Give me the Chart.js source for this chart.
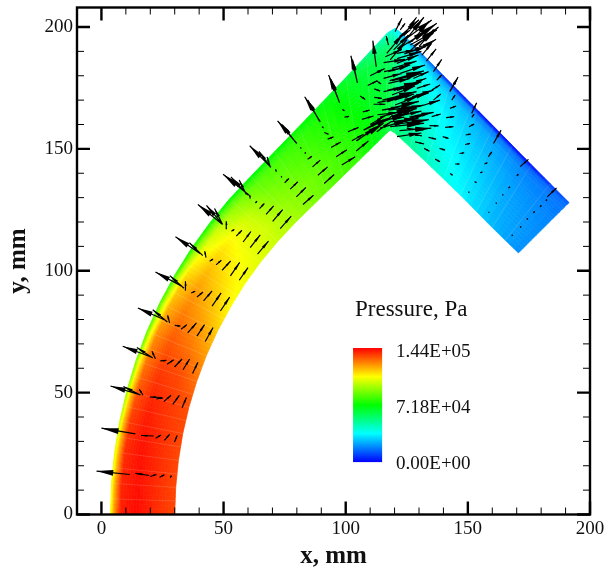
<!DOCTYPE html>
<html>
<head>
<meta charset="utf-8">
<script src="https://cdn.jsdelivr.net/npm/chart.js@4"></script>
<style>
  html, body { margin: 0; background: #fff; }
  #wrap { width: 613px; height: 570px; }
</style>
</head>
<body>
<div id="wrap"><canvas id="ductChart" width="613" height="570"></canvas></div>
<script>
// duct walls in mm (inner wall, then outer wall)
const innerWall = [[30,0],[30.4,11.1],[31.5,22.2],[33.3,33.2],[35.8,44],[39,54.6],[42.9,65.1],[47.5,75.2],[52.8,85],[58.6,94.5],[65.1,103.5],[72.2,112.1],[79.8,120.2],
  [92.6,132.7],[105.4,145.2],[116.5,156.2],[118.2,157.7],[120,156.6],[133,144.5],[147,131],[160,117.7],[170.7,107.3]];
const outerWall = [[3.7,0],[4.1,12.8],[5.4,25.6],[7.5,38.3],[10.4,50.8],[14.1,63.1],[18.6,75.1],[23.9,86.8],[30,98.2],[36.8,109.1],[44.3,119.5],[52.4,129.4],[61.2,138.8],
  [80.7,159],[100.1,179.3],[117,197.5],[120.2,199.5],[123.7,196.7],[143,177],[160.5,159.3],[176,143.5],[191.4,128]];
// where the pressure columns sit between the walls (0 inner, 1 outer)
const acrossWall = [0, 0.3, 0.6, 0.85, 0.95, 1];
// pressure in kPa, one row per wall station, one column per acrossWall
const pressure = [
  [134,138,143,140,122,108],
  [134,138,142,139,120,106],
  [134,138,142,138,118,104],
  [134,137,141,136,116,100],
  [133,136,139,132,112,94],
  [128,134,136,128,108,90],
  [122,128,132,124,104,86],
  [115,122,127,119,100,82],
  [108,116,122,114,96,79],
  [106,111,116,106,90,76],
  [104,106,109,100,86,74],
  [100,102,100,92,82,72],
  [96,94,90,85,78,71],
  [86,86,82,79,75,72],
  [79,76,72,69,68,63],
  [66,64,62,58,50,44],
  [60,60,58,52,43,36],
  [56,54,50,44,34,28],
  [45,40,36,30,22,4],
  [35,32,28,24,17,0],
  [26,24,22,19,14,1],
  [20,20,19,17,16,13]
];
const pressureMax = 144;
const legendTicks = ["1.44E+05", "7.18E+04", "0.00E+00"];
const legendTickY = [66.6, 43.7, 20.7];

// velocity arrows in mm: tail x, tail y, head x, head y
const arcArrows = [
  [11.6,16.4,-2,17.8],[19.6,16,13.9,16.9],[20,15.6,22.5,16.4],[23.8,15.3,25.8,16.3],[28.2,15.1,28.6,16],
  [13.9,33.1,0,35.4],[21.4,32.2,16.2,32.4],[22.2,31.3,24.4,32.6],[25.8,30.4,27.9,32.9],[29.9,29.7,31,32.4],
  [15.7,49.2,3.7,52.7],[16,49,9,52.5],[17,48.9,15.5,51.4],[24.8,48,19.8,48.2],[22.5,47.4,25.2,47.8],[25.5,46.3,28.5,48.9],[29.2,45.2,31.9,48.9],[33,43.8,34.8,48],
  [20.3,64.6,8.7,69],[21,64.2,14.5,68.5],[22.1,63.9,20.7,67],[24.1,63,26.6,63.2],[26.9,61.6,29.6,63.5],[29.9,60.5,33,63.8],[33.4,59.4,36.1,63.8],[37.3,57.8,39.5,62.5],
  [26.2,79.7,14.9,84.7],[27,79,21,84],[27.9,78.6,27.1,81.7],[30,77.6,32.3,77.3],[32.6,76,35,77.9],[35.3,74.5,38.9,78.6],[39.1,73.2,42.2,77.9],[42.5,71,45.7,76.7],
  [33,93.6,22.1,99.5],[33.8,92.8,28,98],[34.6,92,34.4,95.7],[36.7,90.9,38.4,91.6],[39.1,89.2,41.6,91.3],[41.8,87.6,45.3,91.7],[45.3,85.5,49,90.9],[48.7,83.5,52.5,89.2],
  [40.5,107,30.3,113.9],[41.5,106.2,36,111.5],[42.8,105.4,42.3,108],[44.3,103.9,45.7,104.8],[46.9,102.4,49.1,104.3],[49.4,100.2,52.9,104],[52.8,97.9,56.6,103.4],[56.4,96.1,60,101.3],
  [49.6,119,39.5,127.2],[49.6,119,43,126.8],[49.6,119,46.3,125.5],[51.4,117.3,51.1,120.3],[53.2,116.2,54.4,116.9],[55.2,114.2,57.5,116.6],[58,111.8,61.2,116.1],[60.9,109.5,65,114.7],[63.9,106.8,68.4,112.2],
  [60.5,131,49.8,139.6],[60,131,53,138.5],[59.3,131.3,56.4,137.2],[60.9,129.6,60.7,131],[63,127.8,63.7,128.5],[64.7,125.5,66.7,127.6],[67.4,123.1,70.5,126.6],[70.1,120.3,74.2,125.1],[73.2,117.3,77.7,122.4],
  [69.4,142.4,60.7,151.3],[69.2,142.5,64.5,149],[69.1,142.6,67.8,146.7],[71.6,140.6,71.3,141.6],[73.5,138.3,73.9,138.7],[75,136.1,76.8,137.9],[77.3,133.5,80.4,136.5],[79.8,130.3,83.7,134.2],[82.5,127.2,86.8,131],
  [80,152.2,72.1,161.5],[79.6,152.6,74,160],[81.4,150.6,81.6,150.4],[83.2,148.1,83.7,148.5],[84.4,145.7,86.2,147],[86.4,142.6,89.6,145.4],[88.6,139.2,92.6,142.6],[91.2,135.8,95.3,139.5],
  [89.6,161.1,83.2,171.4],[89.2,161.5,84.5,170],[90.3,159.1,90.7,158.8],[91.2,156.7,93,156],[92.6,154,95,154.9],[94,150.6,98,152.8],[96.1,146.8,100.5,149.6],[98.4,143.4,103.9,146.8],
  [97.5,168.9,93,180.3],[97.3,169.5,94,178.5],[98.6,166.2,99.5,165.6],[99.5,163,101.4,163.3],[100.9,157,105.3,158.8],[102.5,153.3,107.3,156],
  [104.8,177.1,102.1,188.2],[104.6,178,102.8,186.5],[112.5,183.7,111.1,194.4]
];
const bendArrows = [
  [125.7,193.3,137.3,201.5],[125,195.4,135.2,202.9],[126.4,192.6,137.3,198.8],[127.7,192.2,135.9,197.4],[128.4,191.3,135.2,193.3],[127.1,194,133.9,202.2],
  [120.2,198.1,123,203.6],[122.3,198.8,124.3,201.5],[116.8,189.2,123.7,197.4],[118.2,186.5,125,194.7],[119.6,190.6,125.7,196.7],[120.9,194.7,126.4,198.8],
  [116.2,187.8,123,190.8],[115.5,185.4,124.3,186.7],[117.5,192.6,116.6,196.3],[131.2,188.5,135.2,193.3],[135.9,181.7,139.3,186.7],
  [112.5,181.4,114.5,181.8],[112.5,178,114.5,176.6],[111.7,174.6,114.1,173.7],[111.7,171.1,114.8,170.7],[111.4,168.3,116.2,168.3],
  [105.9,171.7,108,170.3],[107,165.2,109.8,165.9],[106.6,162.1,111.4,163.5],[107.3,157.7,114.1,161.5],[104.6,153.3,112,158.8],[104.3,149.1,109.3,153.2],
  [112.7,157,118.5,161.1],[114.8,165.9,122.3,167.3],[115.5,173.5,123.7,175.2],[115.5,178.9,123,181],[115.7,181.7,122.3,183],[116.8,170,125,172.1],
  [117.5,165.9,127.7,167.3],[118.2,163.2,129.1,166.6],[118.2,161.1,129.8,162.5],[118.2,159.1,131.8,160.5],[117.5,181.7,126.4,184.4],[117.5,176.9,126.4,178.9],
  [118.9,172.1,128.4,175.8],[120.2,168,129.8,171.7],[122.3,165.9,131.8,168],[123.7,161.8,133.2,164.3],[126.4,160.5,132.1,160.5],[125,158.4,131.8,157.7],
  [125.7,156.3,131.2,155.3],[128.4,152.9,132.1,152],[132.1,150.2,134.3,149],[136.6,145.8,138.6,144.7],[129.1,174.8,134.6,176.6],[122.3,181,132.5,184.4],
  [120.9,185.1,129.8,188.5],[120.9,189.2,128.4,190.6],[127.7,178.9,133.9,181.7],[127.1,171.4,135.9,174.1],[129.8,167.3,138.6,170],[133.9,154.7,137,154],
  [134.3,159.5,138,159.4],[135.2,163.2,138.9,164.3],[135.9,170,138.9,172.5],[135.2,174.1,138.6,176.2],[137.3,178.2,139.3,180.3],
  [109,176,113,178],[110,180,116,183],[121,174,130,177],[119,178,131,181],[124,170,134,173],[125,176,133,179],[126,163,136,165],[122,163.5,131,165.5],
  [120,170,128,172.5],[113,164,122,165],[113,169,121,170.5],[110,160,116,163.5],[116,162,124,163],[119,183,129,186],[121,187,131,190],[124,189,133,192],
  [123,192,134,199],[124,194,132,204],[122,196,130,203],[126,190,138,200],[129,190,137,195],[124,197,129,204],[130,192,136,199],[133,186,137,191],
  [112,160,126,165],[114,163,128,167],[116,166,130,169.5],[115,170,129,173.5],[117,174,131,177.5],[114,158.5,126,162],[118,178,132,182],[120,160,134,162],
  [122,157.5,135,158.5],[121,155,131,156.5],[107.3,157.7,118.5,163],[104.3,153.3,115.5,160.5]
];
const exitArrows = [
  [143,174.1,145.7,178.9],[142.6,173.5,146,179.5],[143.4,170,144.8,172.1],[142.7,166.6,145.2,167.6],[141.1,162.8,144.4,163.2],[140.7,158.8,144.1,159.1],[139.7,155,142.1,154.3],[138.4,150.2,140.7,149.5],
  [151.6,164.6,153.6,168.9],[151.6,162.9,152.6,164.3],[150.5,159.1,152.6,160.2],[149.1,155.7,151.2,156.1],[148.9,151.8,150.9,152.2],[146.6,148.1,148.5,148.4],[144.8,143.8,146.6,143.8],[142.7,139.9,143.8,139.2],
  [160.5,152.2,163.6,157.7],[158.4,146.8,159.8,148.8],[156.8,143.8,158,144.3],[155,140.2,156,140.5],[152.7,136.5,153.6,136.2],[150.2,132.4,150.6,132.1],
  [171.4,142.7,174.8,145.7],[170,139,170.7,139.6],[166.6,134,167.3,134.4],[164.1,131,164.5,131.3],[161.4,127.6,161.8,127.9],[158.4,123.9,158.8,124],
  [182.5,130.3,186.3,134],[181.9,128.7,182.4,129.2],[179.5,126.2,180.1,126.8],[176.8,123.8,177.4,124.3],[174.1,121,174.6,121.4],[171.4,117.7,171.8,118.2],[167.9,114.3,168.4,114.7]
];
const allArrows = arcArrows.concat(bendArrows, exitArrows);

const serif = '"Liberation Serif", "Times New Roman", serif';

// blue - cyan - green - yellow - red, f from 0 to 1
function rainbow(f) {
  const stops = [[0,0,255],[0,255,255],[0,255,0],[255,255,0],[255,0,0]];
  f = Math.min(1, Math.max(0, f));
  const i = Math.min(3, Math.floor(f * 4));
  const t = f * 4 - i;
  const c = stops[i].map((v, k) => Math.round(v + (stops[i + 1][k] - v) * t));
  return "rgb(" + c.join(",") + ")";
}

const fieldPlugin = {
  id: "field",
  beforeDatasetsDraw(chart) {
    const { ctx, scales: { x, y } } = chart;
    const px = p => [x.getPixelForValue(p[0]), y.getPixelForValue(p[1])];
    // corner of a sub cell: station position t, across position u
    const at = (i, j, t, u) => {
      const a = acrossWall[j] + (acrossWall[j + 1] - acrossWall[j]) * u;
      const ix = innerWall[i][0] + (innerWall[i + 1][0] - innerWall[i][0]) * t;
      const iy = innerWall[i][1] + (innerWall[i + 1][1] - innerWall[i][1]) * t;
      const ox = outerWall[i][0] + (outerWall[i + 1][0] - outerWall[i][0]) * t;
      const oy = outerWall[i][1] + (outerWall[i + 1][1] - outerWall[i][1]) * t;
      return px([ix + (ox - ix) * a, iy + (oy - iy) * a]);
    };
    const n = 6;
    ctx.save();
    ctx.lineWidth = 0.7;
    for (let i = 0; i < innerWall.length - 1; i++) {
      for (let j = 0; j < acrossWall.length - 1; j++) {
        for (let a = 0; a < n; a++) {
          for (let b = 0; b < n; b++) {
            const t = (a + 0.5) / n, u = (b + 0.5) / n;
            const low = pressure[i][j] + (pressure[i + 1][j] - pressure[i][j]) * t;
            const high = pressure[i][j + 1] + (pressure[i + 1][j + 1] - pressure[i][j + 1]) * t;
            const col = rainbow((low + (high - low) * u) / pressureMax);
            ctx.fillStyle = col;
            ctx.strokeStyle = col;
            const p = [at(i, j, a / n, b / n), at(i, j, (a + 1) / n, b / n), at(i, j, (a + 1) / n, (b + 1) / n), at(i, j, a / n, (b + 1) / n)];
            ctx.beginPath();
            ctx.moveTo(p[0][0], p[0][1]);
            ctx.lineTo(p[1][0], p[1][1]);
            ctx.lineTo(p[2][0], p[2][1]);
            ctx.lineTo(p[3][0], p[3][1]);
            ctx.closePath();
            ctx.fill();
            ctx.stroke();
          }
        }
      }
    }
    // faint pale mesh lines across the duct
    ctx.strokeStyle = "rgba(255,255,255,0.16)";
    ctx.lineWidth = 0.8;
    for (let i = 0; i < innerWall.length - 1; i++) {
      [0, 0.5].forEach(t => {
        const a = at(i, 0, t, 0), b = at(i, acrossWall.length - 2, t, 1);
        ctx.beginPath();
        ctx.moveTo(a[0], a[1]);
        ctx.lineTo(b[0], b[1]);
        ctx.stroke();
      });
    }
    ctx.restore();
  },
  afterDatasetsDraw(chart) {
    const { ctx, scales: { x, y } } = chart;
    ctx.save();
    ctx.fillStyle = "#000";
    // arrow heads, their size goes with the vector like in the original plot
    allArrows.forEach(a => {
      const x0 = x.getPixelForValue(a[0]), y0 = y.getPixelForValue(a[1]);
      const x1 = x.getPixelForValue(a[2]), y1 = y.getPixelForValue(a[3]);
      const dx = x1 - x0, dy = y1 - y0;
      const len = Math.hypot(dx, dy) || 1;
      const back = len * 0.5, half = Math.max(1, len * 0.085);
      const bx = x1 - dx / len * back, by = y1 - dy / len * back;
      ctx.beginPath();
      ctx.moveTo(x1, y1);
      ctx.lineTo(bx - dy / len * half, by + dx / len * half);
      ctx.lineTo(bx + dy / len * half, by - dx / len * half);
      ctx.closePath();
      ctx.fill();
    });

    // frame and inward ticks on all four sides
    const { left, right, top, bottom } = chart.chartArea;
    ctx.strokeStyle = "#000";
    x.ticks.forEach(t => {
      const major = t.value % 50 === 0;
      const p = x.getPixelForValue(t.value);
      ctx.lineWidth = major ? 2.4 : 1;
      const l = major ? 13 : 7;
      ctx.beginPath();
      ctx.moveTo(p, bottom); ctx.lineTo(p, bottom - l);
      ctx.moveTo(p, top); ctx.lineTo(p, top + l);
      ctx.stroke();
    });
    y.ticks.forEach(t => {
      const major = t.value % 50 === 0;
      const p = y.getPixelForValue(t.value);
      ctx.lineWidth = major ? 2.4 : 1;
      const l = major ? 13 : 7;
      ctx.beginPath();
      ctx.moveTo(left, p); ctx.lineTo(left + l, p);
      ctx.moveTo(right, p); ctx.lineTo(right - l, p);
      ctx.stroke();
    });
    ctx.lineWidth = 2.4;
    ctx.strokeRect(left, top, right - left, bottom - top);

    // colour bar
    const barL = x.getPixelForValue(103), barR = x.getPixelForValue(114.9);
    const barT = y.getPixelForValue(68.3), barB = y.getPixelForValue(21.5);
    const g = ctx.createLinearGradient(0, barB, 0, barT);
    [0, 0.25, 0.5, 0.75, 1].forEach(f => g.addColorStop(f, rainbow(f)));
    ctx.fillStyle = g;
    ctx.fillRect(barL, barT, barR - barL, barB - barT);

    ctx.fillStyle = "#111";
    ctx.textBaseline = "middle";
    ctx.textAlign = "left";
    ctx.font = "23px " + serif;
    ctx.fillText("Pressure, Pa", x.getPixelForValue(103.8), y.getPixelForValue(83.9));
    ctx.font = "19px " + serif;
    legendTicks.forEach((s, i) => ctx.fillText(s, x.getPixelForValue(120.6), y.getPixelForValue(legendTickY[i])));
    ctx.restore();
  }
};

new Chart(document.getElementById("ductChart"), {
  type: "scatter",
  data: {
    datasets: [{
      label: "Velocity",
      // shafts as one broken line, null starts the next arrow
      data: allArrows.flatMap(a => [{ x: a[0], y: a[1] }, { x: a[2], y: a[3] }, { x: null, y: null }]),
      showLine: true,
      spanGaps: false,
      borderColor: "#000",
      borderWidth: 1.2,
      pointRadius: 0,
      clip: false
    }]
  },
  options: {
    responsive: false,
    animation: false,
    events: [],
    layout: { padding: { top: 7.5, right: 23, left: 0, bottom: 0 } },
    plugins: { legend: { display: false }, tooltip: { enabled: false } },
    scales: {
      x: {
        type: "linear",
        min: -10,
        max: 200,
        grid: { display: false, drawTicks: false },
        border: { display: false },
        afterFit(s) { s.height = 55.5; s.paddingRight = 0; s.paddingLeft = 0; },
        ticks: {
          stepSize: 10,
          autoSkip: false,
          maxRotation: 0,
          padding: 3,
          color: "#111",
          font: { family: serif, size: 19 },
          callback: v => (v % 50 === 0 ? String(v) : "")
        },
        title: { display: true, text: "x, mm", color: "#111", font: { family: serif, size: 25, weight: "bold" }, padding: { top: 0, bottom: -2 } }
      },
      y: {
        type: "linear",
        min: 0,
        max: 208,
        grid: { display: false, drawTicks: false },
        border: { display: false },
        afterFit(s) { s.width = 77; s.paddingTop = 0; s.paddingBottom = 0; },
        ticks: {
          stepSize: 10,
          includeBounds: false,
          autoSkip: false,
          padding: 4,
          color: "#111",
          font: { family: serif, size: 19 },
          callback: v => (v % 50 === 0 ? String(v) : "")
        },
        title: { display: true, text: "y, mm", color: "#111", font: { family: serif, size: 25, weight: "bold" }, padding: 4 }
      }
    }
  },
  plugins: [fieldPlugin]
});
</script>
</body>
</html>
